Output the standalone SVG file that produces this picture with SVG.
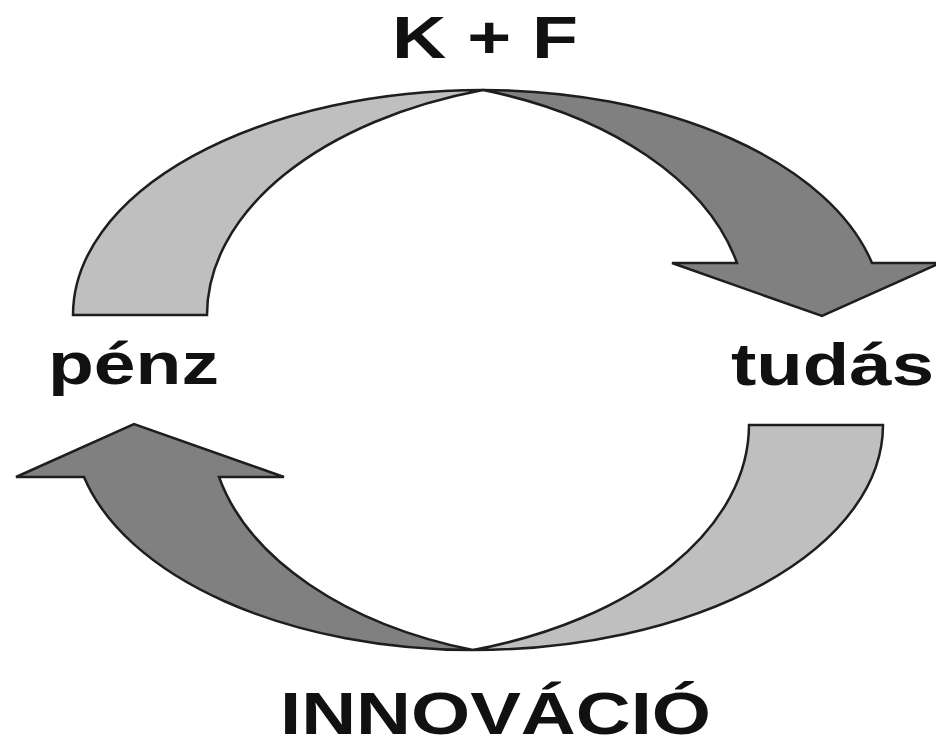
<svg xmlns="http://www.w3.org/2000/svg" width="936" height="737" viewBox="0 0 936 737">
<style>
.light{fill:#bfbfbf;stroke:#1e1e1e;stroke-width:2.5;stroke-linejoin:miter}
.dark{fill:#808080;stroke:#1e1e1e;stroke-width:2.5;stroke-linejoin:miter}
.lbl{font-family:"Liberation Sans",Arial,sans-serif;font-weight:bold;font-size:60px;fill:#111}
</style>
<rect width="936" height="737" fill="#fff"/>
<g id="connectors">
<path id="arrow-penz-kf" class="light" d="M 73 315 A 410 225 0 0 1 483 90 A 393 236 0 0 0 207 315 Z"/>
<path id="arrow-kf-tudas" class="dark" d="M 483 90 A 400 225 0 0 1 872 263 L 940 263 L 822 316 L 672 263 L 737 263 A 380 236.6 0 0 0 483 90 Z"/>
<path id="arrow-tudas-innovacio" class="light" d="M 883 425 A 410 225 0 0 1 473 650 A 393 236 0 0 0 749 425 Z"/>
<path id="arrow-innovacio-penz" class="dark" d="M 473 650 A 400 225 0 0 1 84 477 L 16 477 L 134 424 L 284 477 L 219 477 A 380 236.6 0 0 0 473 650 Z"/>
</g>
<g id="node-kf"><text class="lbl" x="392" y="58" textLength="186" lengthAdjust="spacingAndGlyphs">K + F</text></g>
<g id="node-penz"><text class="lbl" x="48" y="384" textLength="171" lengthAdjust="spacingAndGlyphs">pénz</text></g>
<g id="node-tudas"><text class="lbl" x="731" y="385" textLength="203" lengthAdjust="spacingAndGlyphs">tudás</text></g>
<g id="node-innovacio"><text class="lbl" x="280" y="734" textLength="431" lengthAdjust="spacingAndGlyphs">INNOVÁCIÓ</text></g>
</svg>
